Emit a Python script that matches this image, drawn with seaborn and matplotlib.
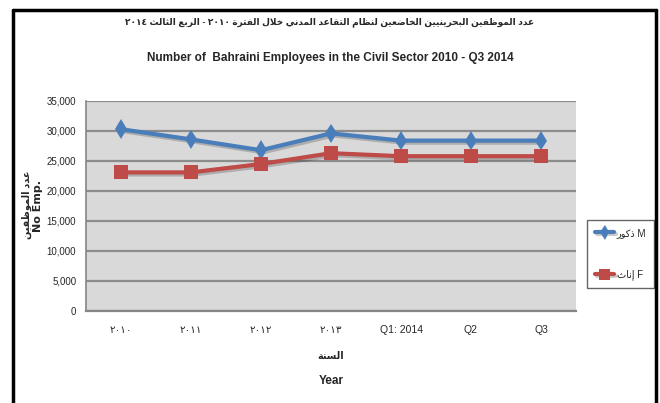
import re
import numpy as np
import pandas as pd
import matplotlib
matplotlib.use("Agg")
import matplotlib.pyplot as plt
import matplotlib.patheffects as pe
from matplotlib.lines import Line2D
import seaborn as sns

# 数据
periods = ["٢٠١٠", "٢٠١١", "٢٠١٢", "٢٠١٣", "Q1: 2014", "Q2", "Q3"]
male = [30300, 28600, 26800, 29600, 28400, 28400, 28400]
female = [23100, 23100, 24500, 26300, 25800, 25800, 25800]
yticks = [0, 5000, 10000, 15000, 20000, 25000, 30000, 35000]

title_ar = "عدد الموظفين البحرينيين الخاضعين لنظام التقاعد المدني خلال الفترة ٢٠١٠ - الربع الثالث ٢٠١٤"
title_en = "Number of  Bahraini Employees in the Civil Sector 2010 - Q3 2014"
ylabel_ar = "عدد الموظفين"
ylabel_en = "No Emp."
xlabel_ar = "السنة"
xlabel_en = "Year"
legend_ar = ["ذكور", "إناث"]
legend_en = ["M", "F"]

# 阿拉伯文字形 (isolated, final, initial, medial)
FORMS = {
    "ء": (0xFE80, None, None, None),
    "آ": (0xFE81, 0xFE82, None, None),
    "أ": (0xFE83, 0xFE84, None, None),
    "ؤ": (0xFE85, 0xFE86, None, None),
    "إ": (0xFE87, 0xFE88, None, None),
    "ئ": (0xFE89, 0xFE8A, 0xFE8B, 0xFE8C),
    "ا": (0xFE8D, 0xFE8E, None, None),
    "ب": (0xFE8F, 0xFE90, 0xFE91, 0xFE92),
    "ة": (0xFE93, 0xFE94, None, None),
    "ت": (0xFE95, 0xFE96, 0xFE97, 0xFE98),
    "ث": (0xFE99, 0xFE9A, 0xFE9B, 0xFE9C),
    "ج": (0xFE9D, 0xFE9E, 0xFE9F, 0xFEA0),
    "ح": (0xFEA1, 0xFEA2, 0xFEA3, 0xFEA4),
    "خ": (0xFEA5, 0xFEA6, 0xFEA7, 0xFEA8),
    "د": (0xFEA9, 0xFEAA, None, None),
    "ذ": (0xFEAB, 0xFEAC, None, None),
    "ر": (0xFEAD, 0xFEAE, None, None),
    "ز": (0xFEAF, 0xFEB0, None, None),
    "س": (0xFEB1, 0xFEB2, 0xFEB3, 0xFEB4),
    "ش": (0xFEB5, 0xFEB6, 0xFEB7, 0xFEB8),
    "ص": (0xFEB9, 0xFEBA, 0xFEBB, 0xFEBC),
    "ض": (0xFEBD, 0xFEBE, 0xFEBF, 0xFEC0),
    "ط": (0xFEC1, 0xFEC2, 0xFEC3, 0xFEC4),
    "ظ": (0xFEC5, 0xFEC6, 0xFEC7, 0xFEC8),
    "ع": (0xFEC9, 0xFECA, 0xFECB, 0xFECC),
    "غ": (0xFECD, 0xFECE, 0xFECF, 0xFED0),
    "ف": (0xFED1, 0xFED2, 0xFED3, 0xFED4),
    "ق": (0xFED5, 0xFED6, 0xFED7, 0xFED8),
    "ك": (0xFED9, 0xFEDA, 0xFEDB, 0xFEDC),
    "ل": (0xFEDD, 0xFEDE, 0xFEDF, 0xFEE0),
    "م": (0xFEE1, 0xFEE2, 0xFEE3, 0xFEE4),
    "ن": (0xFEE5, 0xFEE6, 0xFEE7, 0xFEE8),
    "ه": (0xFEE9, 0xFEEA, 0xFEEB, 0xFEEC),
    "و": (0xFEED, 0xFEEE, None, None),
    "ى": (0xFEEF, 0xFEF0, None, None),
    "ي": (0xFEF1, 0xFEF2, 0xFEF3, 0xFEF4),
}
LAM_ALEF = {"آ": (0xFEF5, 0xFEF6), "أ": (0xFEF7, 0xFEF8),
            "إ": (0xFEF9, 0xFEFA), "ا": (0xFEFB, 0xFEFC)}


def joins_next(ch):
    return ch in FORMS and FORMS[ch][2] is not None


def shape(text):
    out = []
    i = 0
    n = len(text)
    while i < n:
        ch = text[i]
        prev = text[i - 1] if i > 0 else ""
        pc = joins_next(prev)
        if ch == "ل" and i + 1 < n and text[i + 1] in LAM_ALEF:
            iso, fin = LAM_ALEF[text[i + 1]]
            out.append(chr(fin if pc else iso))
            i += 2
            continue
        if ch not in FORMS:
            out.append(ch)
            i += 1
            continue
        iso, fin, ini, med = FORMS[ch]
        nxt = text[i + 1] if i + 1 < n else ""
        nc = ini is not None and nxt in FORMS
        if pc and nc:
            out.append(chr(med))
        elif pc:
            out.append(chr(fin))
        elif nc:
            out.append(chr(ini))
        else:
            out.append(chr(iso))
        i += 1
    return "".join(out)


def ar(text):
    # 只处理阿拉伯文字：字形连接 + 视觉顺序（数字保持从左到右）
    if not re.search(r"[\u0600-\u065F\u066A-\u06FF\u0660-\u0669]", text):
        return text
    s = shape(text)
    tokens = re.findall(r"[0-9\u0660-\u0669]+|.", s)
    return "".join(tokens[::-1])


df = pd.DataFrame({
    "period": periods * 2,
    "value": male + female,
    "sex": ["M"] * len(periods) + ["F"] * len(periods),
})

sns.set_style("white")
plt.rcParams["font.family"] = ["Liberation Sans Narrow", "Liberation Sans", "DejaVu Sans"]

fig = plt.figure(figsize=(6.6, 4.03), dpi=100)
ax = fig.add_axes([86 / 660, 1 - 311 / 403, 490 / 660, 210 / 403])
ax.set_facecolor("#D9D9D9")

sns.lineplot(data=df, x="period", y="value", hue="sex", style="sex",
             palette={"M": "#4A7EBB", "F": "#BE4B48"},
             markers={"M": "d", "F": "s"}, dashes=False,
             linewidth=3, markersize=10, markeredgewidth=0,
             sort=False, ax=ax)

for line in ax.lines:
    line.set_path_effects([pe.SimpleLineShadow(offset=(1.5, -1.5), alpha=0.2),
                           pe.Normal()])

ax.set_xlim(-0.5, len(periods) - 0.5)
ax.set_ylim(0, 35000)
ax.set_yticks(yticks)
ax.set_yticklabels([f"{v:,}" for v in yticks], fontsize=7)
ax.set_xticks(range(len(periods)))
ax.set_xticklabels([ar(p) for p in periods], fontsize=7.5)
ax.tick_params(axis="x", length=0, pad=10)
ax.tick_params(axis="y", length=4, width=1, color="#868686", direction="out", pad=3)
ax.yaxis.grid(True, color="#8C8C8C", linewidth=1.6)
ax.set_axisbelow(True)
for side in ["top", "right"]:
    ax.spines[side].set_visible(False)
ax.spines["left"].set_color("#868686")
ax.spines["bottom"].set_color("#868686")
ax.spines["left"].set_linewidth(1.2)
ax.spines["bottom"].set_linewidth(1.6)
ax.set_xlabel("")
ax.set_ylabel("")

# 标题
fig.text(0.5, 1 - 22 / 403, ar(title_ar), ha="center", va="center",
         fontsize=6.5, fontweight="bold")
fig.text(0.5, 1 - 58 / 403, title_en, ha="center", va="center",
         fontsize=8.5, fontweight="bold")

# 轴标题
fig.text(27 / 660, 1 - 205 / 403, ar(ylabel_ar), rotation=90, ha="center",
         va="center", fontsize=7, fontweight="bold")
fig.text(38 / 660, 1 - 206 / 403, ylabel_en, rotation=90, ha="center",
         va="center", fontsize=8, fontweight="bold", family="DejaVu Sans")
fig.text(331 / 660, 1 - 356 / 403, ar(xlabel_ar), ha="center", va="center",
         fontsize=7, fontweight="bold")
fig.text(331 / 660, 1 - 381 / 403, xlabel_en, ha="center", va="center",
         fontsize=8.5, fontweight="bold")

# 图例
handles, labels = ax.get_legend_handles_labels()
order = [labels.index("M"), labels.index("F")]
leg_labels = [ar(legend_ar[i]) + " " + legend_en[i] for i in range(2)]
leg = ax.legend([handles[i] for i in order], leg_labels,
                loc="center left", bbox_to_anchor=(587 / 660, 1 - 254 / 403),
                bbox_transform=fig.transFigure, frameon=True, fancybox=False,
                edgecolor="#404040", fontsize=7, labelspacing=3.3,
                handlelength=2.0, handletextpad=0.25, borderpad=0.8,
                borderaxespad=0, markerscale=0.75)
leg.get_frame().set_linewidth(1)

# 外框
fig.add_artist(Line2D([13 / 660, 13 / 660], [0, 1 - 10 / 403], color="black",
                      linewidth=2.5, transform=fig.transFigure))
fig.add_artist(Line2D([13 / 660, 656 / 660], [1 - 10 / 403, 1 - 10 / 403],
                      color="black", linewidth=2.5, transform=fig.transFigure))
fig.add_artist(Line2D([656 / 660, 656 / 660], [0, 1 - 10 / 403], color="black",
                      linewidth=2.5, transform=fig.transFigure))

fig.savefig("out.png", dpi=100)
